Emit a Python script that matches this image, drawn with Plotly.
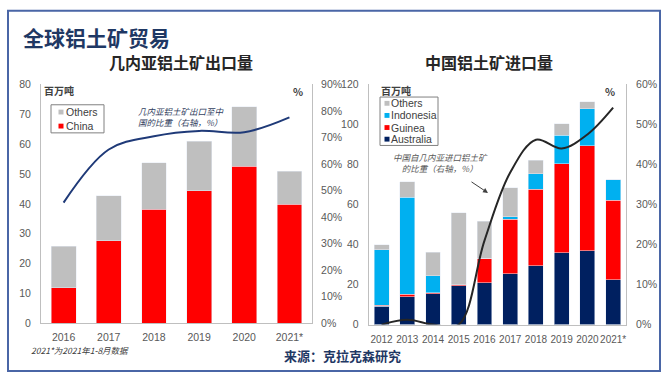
import plotly.graph_objects as go

# ---------------- data ----------------
gn_years = ["2016", "2017", "2018", "2019", "2020", "2021*"]
gn_china = [12.0, 27.7, 38.2, 44.4, 52.6, 39.8]
gn_others = [13.8, 15.0, 15.6, 16.5, 19.9, 11.1]
gn_share = [0.455, 0.655, 0.705, 0.725, 0.72, 0.776]

cn_years = ["2012", "2013", "2014", "2015", "2016", "2017", "2018", "2019", "2020", "2021*"]
cn_australia = [9.2, 14.0, 15.3, 19.4, 21.0, 25.3, 29.4, 35.8, 36.9, 22.4]
cn_guinea = [0.5, 1.2, 0.5, 0.6, 12.2, 27.4, 38.3, 44.5, 52.5, 39.7]
cn_indonesia = [27.7, 48.5, 8.5, 0.0, 0.0, 1.3, 7.6, 14.4, 18.5, 10.3]
cn_others = [2.4, 7.6, 11.8, 36.0, 18.4, 14.5, 6.9, 5.6, 3.5, 0.0]
cn_share = [0.0, 0.012, 0.0, 0.0, 0.21, 0.38, 0.462, 0.44, 0.475, 0.542]

W, H = 670, 380
FONT = "Liberation Sans, Arial, Noto Sans CJK SC, sans-serif"
CJK = "Noto Sans CJK SC, Liberation Sans, sans-serif"
GRAY = "#BFBFBF"
RED = "#FF0000"
CYAN = "#00B0F0"
NAVY = "#002060"
TICK = "#595959"
AXL = "#BFBFBF"


def px(x):
    return x / W


def py(y):
    return 1 - y / H


fig = go.Figure()

# ---- left chart: Guinea exports ----
fig.add_trace(go.Bar(x=gn_years, y=gn_china, name="China", marker_color=RED,
                     width=0.55, xaxis="x", yaxis="y", showlegend=False))
fig.add_trace(go.Bar(x=gn_years, y=gn_others, name="Others", marker_color=GRAY,
                     width=0.55, xaxis="x", yaxis="y", showlegend=False))
fig.add_trace(go.Scatter(x=gn_years, y=gn_share, mode="lines", line=dict(color="#1F3A78", width=2, shape="spline"),
                         xaxis="x", yaxis="y2", showlegend=False))

# ---- right chart: China imports ----
fig.add_trace(go.Bar(x=cn_years, y=cn_australia, name="Australia", marker_color=NAVY,
                     width=0.58, xaxis="x2", yaxis="y3", showlegend=False))
fig.add_trace(go.Bar(x=cn_years, y=cn_guinea, name="Guinea", marker_color=RED,
                     width=0.58, xaxis="x2", yaxis="y3", showlegend=False))
fig.add_trace(go.Bar(x=cn_years, y=cn_indonesia, name="Indonesia", marker_color=CYAN,
                     width=0.58, xaxis="x2", yaxis="y3", showlegend=False))
fig.add_trace(go.Bar(x=cn_years, y=cn_others, name="Others", marker_color=GRAY,
                     width=0.58, xaxis="x2", yaxis="y3", showlegend=False))
fig.add_trace(go.Scatter(x=cn_years, y=cn_share, mode="lines", line=dict(color="#262626", width=2, shape="spline"),
                         xaxis="x2", yaxis="y4", showlegend=False))

tickfont = dict(family=FONT, size=10.5, color=TICK)
axis_common = dict(showgrid=False, zeroline=False, showline=True, linecolor=AXL, linewidth=1,
                   ticks="", tickfont=tickfont, fixedrange=True)

fig.update_layout(
    width=W, height=H,
    margin=dict(l=0, r=0, t=0, b=0),
    paper_bgcolor="white", plot_bgcolor="white",
    barmode="stack",
    font=dict(family=FONT),
    showlegend=False,
    xaxis=dict(domain=[px(41), px(312)], anchor="y", tickangle=0, ticklabelstandoff=4, **axis_common),
    yaxis=dict(domain=[py(327.7), py(81)], anchor="x", range=[0, 80], dtick=10,
               ticklabelstandoff=7, **axis_common),
    yaxis2=dict(domain=[py(327.7), py(81)], anchor="x", overlaying="y", side="right",
                range=[0, 0.9], dtick=0.1, tickformat=".0%", ticklabelstandoff=6, **axis_common),
    xaxis2=dict(domain=[px(368.7), px(626)], anchor="y3", tickangle=0, ticklabelstandoff=5,
                **{**axis_common, "tickfont": dict(family=FONT, size=10, color=TICK)}),
    yaxis3=dict(domain=[py(329), py(81)], anchor="x2", range=[0, 120], dtick=20,
                ticklabelstandoff=7, **axis_common),
    yaxis4=dict(domain=[py(329), py(81)], anchor="x2", overlaying="y3", side="right",
                range=[0, 0.6], dtick=0.1, tickformat=".0%", ticklabelstandoff=7, **axis_common),
)

ann = []
shapes = []


def text(x, y, s, size, color="#404040", xanchor="center", weight="normal", family=CJK, align="center"):
    ann.append(dict(x=px(x), y=py(y), xref="paper", yref="paper", text=s, showarrow=False,
                    xanchor=xanchor, yanchor="middle", align=align,
                    font=dict(family=family, size=size, color=color, weight=weight)))


def legend_box(x0, y0, x1, y1, items, sq_x, text_x, size):
    shapes.append(dict(type="rect", xref="paper", yref="paper", x0=px(x0), x1=px(x1),
                       y0=py(y1), y1=py(y0), line=dict(color="#808080", width=1),
                       fillcolor="white", layer="above"))
    for (name, color, yy) in items:
        shapes.append(dict(type="rect", xref="paper", yref="paper",
                           x0=px(sq_x - 2.5), x1=px(sq_x + 2.5), y0=py(yy + 2.5), y1=py(yy - 2.5),
                           line=dict(width=0), fillcolor=color, layer="above"))
        text(text_x, yy, name, size, color="#404040", xanchor="left", family=FONT)


legend_box(51, 102, 104, 131, [("Others", GRAY, 109.5), ("China", RED, 124)], 61, 64, 10.5)
legend_box(380, 94, 438, 144, [("Others", GRAY, 100.5), ("Indonesia", CYAN, 113),
                               ("Guinea", RED, 125.5), ("Australia", NAVY, 137.5)], 387, 389, 10.5)

text(21, 32, "全球铝土矿贸易", 21, color="#1F3864", xanchor="left", weight="bold")
text(181, 58, "几内亚铝土矿出口量", 16, color="#262626", weight="bold")
text(489, 58, "中国铝土矿进口量", 16, color="#262626", weight="bold")
text(42, 87, "百万吨", 10, color="#404040", xanchor="left", weight="bold")
text(305, 88, "%", 10.5, color="#404040", xanchor="right", weight="bold")
text(379, 87, "百万吨", 10, color="#404040", xanchor="left", weight="bold")
text(617, 88, "%", 10.5, color="#404040", xanchor="right", weight="bold")
text(136, 114.5, "<i>几内亚铝土矿出口至中<br>国的比重（右轴，%）</i>", 8.5, color="#333F5F",
     xanchor="left", align="left")
text(440, 162, "<i>中国自几内亚进口铝土矿<br>的比重（右轴，%）</i>", 8.5, color="#595959")
text(29, 355, "<i>2021*为2021年1-8月数据</i>", 8.5, color="#404040", xanchor="left")
text(342.5, 360.7, "来源：克拉克森研究", 13, color="#1F3864", weight="bold")

# arrow pointing at the share line
ann.append(dict(x=px(488), y=py(193), xref="paper", yref="paper", text="", showarrow=True,
                ax=-18, ay=-12, arrowhead=2, arrowsize=1, arrowwidth=1, arrowcolor="#404040"))

shapes.append(dict(type="rect", xref="paper", yref="paper", x0=px(8), x1=px(660), y0=py(377), y1=py(5),
                   line=dict(color="#4A66A6", width=2), fillcolor="rgba(0,0,0,0)", layer="above"))

fig.update_layout(annotations=ann, shapes=shapes)

fig.write_html("out.html", config={"displayModeBar": False, "staticPlot": True},
               post_script="document.body.style.margin='0';document.body.style.overflow='hidden';")
